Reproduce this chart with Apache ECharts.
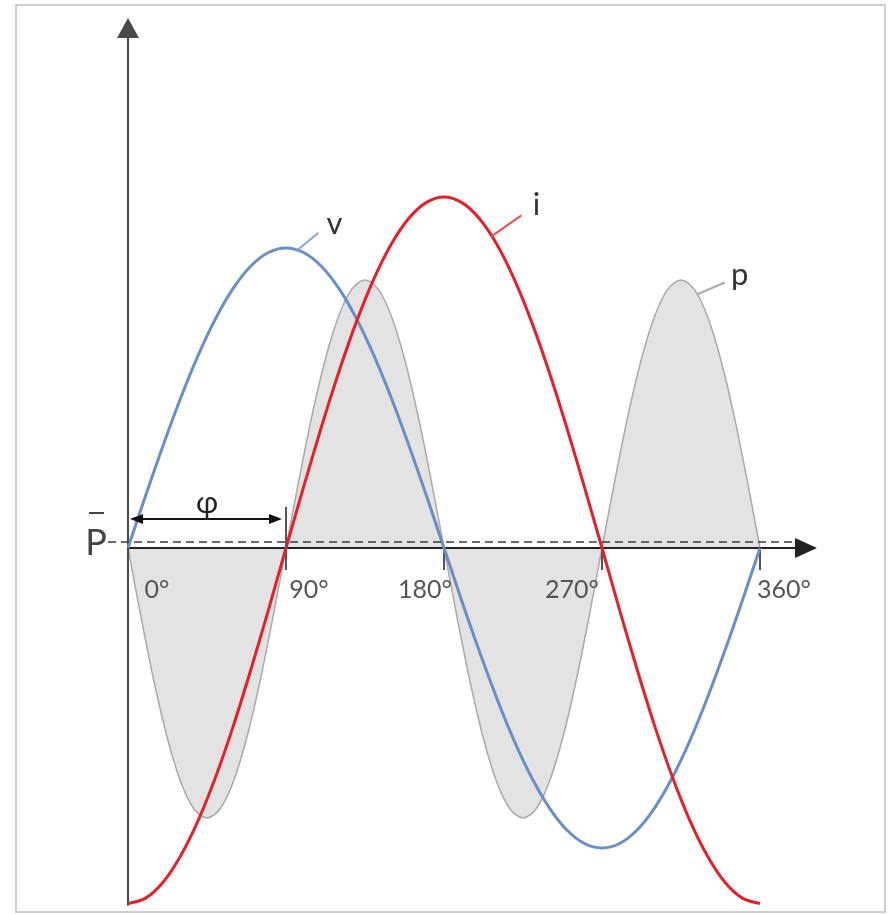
<!DOCTYPE html>
<html>
<head>
<meta charset="utf-8">
<script src="https://cdn.jsdelivr.net/npm/echarts@6/dist/echarts.min.js"></script>
<style>
  html, body { margin: 0; padding: 0; background: #ffffff; }
  #chart { width: 888px; height: 914px; }
</style>
</head>
<body>
<div id="chart"></div>
<script>
// Phase angles (degrees) at which voltage and current are sampled
const anglesVI = [0, 10, 20, 30, 40, 50, 60, 70, 80, 90, 100, 110, 120, 130, 140, 150, 160, 170, 180,
  190, 200, 210, 220, 230, 240, 250, 260, 270, 280, 290, 300, 310, 320, 330, 340, 350, 360];

// Instantaneous voltage v
const voltage = [0, 17.4, 34.2, 50.0, 64.3, 76.6, 86.6, 94.0, 98.5, 100, 98.5, 94.0, 86.6, 76.6, 64.3, 50.0, 34.2, 17.4, 0,
  -17.4, -34.2, -50.0, -64.3, -76.6, -86.6, -94.0, -98.5, -100, -98.5, -94.0, -86.6, -76.6, -64.3, -50.0, -34.2, -17.4, 0];

// Instantaneous current i (lags the voltage by φ)
const current = [-118.5, -116.7, -111.4, -102.6, -90.8, -76.2, -59.3, -40.5, -20.6, 0, 20.3, 40.0, 58.5, 75.2, 89.6, 101.3, 109.9, 115.2, 117,
  115.2, 109.9, 101.3, 89.6, 75.2, 58.5, 40.0, 20.3, 0, -20.6, -40.5, -59.3, -76.2, -90.8, -102.6, -111.4, -116.7, -118.5];

// Phase angles (degrees) at which the power is sampled
const anglesP = [0, 7.5, 15, 22.5, 30, 37.5, 45, 52.5, 60, 67.5, 75, 82.5, 90,
  97.5, 105, 112.5, 120, 127.5, 135, 142.5, 150, 157.5, 165, 172.5, 180,
  187.5, 195, 202.5, 210, 217.5, 225, 232.5, 240, 247.5, 255, 262.5, 270,
  277.5, 285, 292.5, 300, 307.5, 315, 322.5, 330, 337.5, 345, 352.5, 360];

// Instantaneous power p = v·i
const power = [0, -23.3, -45.0, -63.6, -77.9, -86.9, -90.0, -86.9, -77.9, -63.6, -45.0, -23.3, 0,
  23.1, 44.7, 63.1, 77.3, 86.3, 89.3, 86.3, 77.3, 63.1, 44.7, 23.1, 0,
  -23.3, -45.0, -63.6, -77.9, -86.9, -90.0, -86.9, -77.9, -63.6, -45.0, -23.3, 0,
  23.1, 44.7, 63.1, 77.3, 86.3, 89.3, 86.3, 77.3, 63.1, 44.7, 23.1, 0];

// Axis ticks
const tickDegrees = [0, 90, 180, 270, 360];
const tickNames = ['0°', '90°', '180°', '270°', '360°'];

const curveNames = ['v', 'i', 'p'];
const meanPower = 2;      // level of the average power P̄
const phaseAngle = 90;    // φ, degrees

const FONT = 'Lato, "Open Sans", sans-serif';
const Y_MIN = -119;
const Y_MAX = 173.333;

function pairs(xs, ys) { return xs.map((x, k) => [x, ys[k]]); }

function valueAt(xs, ys, x) {
  for (let k = 1; k < xs.length; k++) {
    if (x <= xs[k]) {
      const t = (x - xs[k - 1]) / (xs[k] - xs[k - 1]);
      return ys[k - 1] + t * (ys[k] - ys[k - 1]);
    }
  }
  return ys[ys.length - 1];
}

// per-label horizontal nudge (rich padding) so each label sits beside its tick
const labelPads = [[0, 0, 0, 58], [0, 0, 0, 46], [0, 38, 0, 0], [0, 60, 0, 0], [0, 0, 0, 48]];
const rich = {};
tickDegrees.forEach((d, k) => {
  rich['t' + k] = { fontFamily: FONT, fontSize: 25, lineHeight: 25, color: '#555', padding: labelPads[k] };
});

const option = {
  animation: false,
  backgroundColor: '#ffffff',
  grid: { left: 128, top: 28, width: 678, height: 877, containLabel: false, outerBoundsMode: 'none' },
  xAxis: {
    type: 'value',
    min: 0,
    max: 386.2,
    z: 2,
    offset: 0,
    splitLine: { show: false },
    axisLine: {
      show: true,
      onZero: false,
      symbol: ['none', 'triangle'],
      symbolSize: [20, 22],
      lineStyle: { color: '#222', width: 2 }
    },
    axisTick: {
      show: true,
      customValues: tickDegrees.slice(1),
      length: 22,
      lineStyle: { color: '#555', width: 2 }
    },
    axisLabel: {
      show: true,
      customValues: tickDegrees,
      margin: 29,
      formatter: function (val) {
        const k = tickDegrees.indexOf(val);
        return k < 0 ? '' : '{t' + k + '|' + tickNames[k] + '}';
      },
      rich: rich
    }
  },
  yAxis: {
    type: 'value',
    min: Y_MIN,
    max: Y_MAX,
    z: 2,
    splitLine: { show: false },
    axisTick: { show: false },
    axisLabel: { show: false },
    axisLine: {
      show: true,
      onZero: false,
      symbol: ['none', 'triangle'],
      symbolSize: [22, 20],
      lineStyle: { color: '#4a4a4a', width: 2 }
    }
  },
  series: [
    {
      name: curveNames[2],
      type: 'line',
      z: 1,
      smooth: 0.33,
      showSymbol: false,
      data: pairs(anglesP, power),
      lineStyle: { color: '#a9a9a9', width: 1.5 },
      areaStyle: { color: '#e3e3e4', opacity: 1 }
    },
    {
      name: curveNames[0],
      type: 'line',
      z: 3,
      smooth: 0.33,
      showSymbol: false,
      data: pairs(anglesVI, voltage),
      lineStyle: { color: '#6a8fc4', width: 3 }
    },
    {
      name: curveNames[1],
      type: 'line',
      z: 4,
      smooth: 0.33,
      showSymbol: false,
      data: pairs(anglesVI, current),
      lineStyle: { color: '#e3202b', width: 3 }
    }
  ]
};

const chart = echarts.init(document.getElementById('chart'), null, { renderer: 'canvas' });
chart.setOption(option);

const px = (x, y) => chart.convertToPixel({ gridIndex: 0 }, [x, y]);

// lift the horizontal axis from the grid bottom up to the zero line
const zeroPx = px(0, 0)[1];
const bottomPx = px(0, Y_MIN)[1];
chart.setOption({ xAxis: { offset: zeroPx - bottomPx } });

// annotations placed through the chart's own coordinate system
const origin = px(0, 0);
const pBar = px(-11.4, meanPower);
const pEnd = px(380, meanPower);
const phiY = px(0, 9.7)[1];
const phiX0 = origin[0];
const phiX1 = px(phaseAngle, 0)[0];
const phiBarTop = px(phaseAngle, 13.7)[1];
const phiText = px(phaseAngle / 2, 14.8);

function leader(name, xs, ys, deg, dx, dy, color, tx, ty) {
  const a = px(deg, valueAt(xs, ys, deg));
  return [
    { type: 'line', z: 20, shape: { x1: a[0], y1: a[1], x2: a[0] + dx, y2: a[1] + dy },
      style: { stroke: color, lineWidth: 2 } },
    { type: 'text', z: 20, x: a[0] + dx + tx, y: a[1] + dy + ty,
      style: { text: name, font: '31px ' + FONT, fill: '#333', align: 'center', verticalAlign: 'middle' } }
  ];
}

const graphics = [
  { type: 'rect', z: 30, shape: { x: 16, y: 5, width: 869, height: 907 },
    style: { fill: 'none', stroke: '#cfcfcf', lineWidth: 2 } },
  // average power line
  { type: 'line', z: 20, shape: { x1: pBar[0], y1: pBar[1], x2: pEnd[0], y2: pEnd[1] },
    style: { stroke: '#3a3a3a', lineWidth: 1.5, lineDash: [8, 5] } },
  { type: 'text', z: 20, x: origin[0] - 32, y: pBar[1] + 1.5,
    style: { text: 'P', font: '36px ' + FONT, fill: '#444', align: 'center', verticalAlign: 'middle' } },
  { type: 'line', z: 20, shape: { x1: origin[0] - 39, y1: pBar[1] - 29, x2: origin[0] - 24, y2: pBar[1] - 29 },
    style: { stroke: '#444', lineWidth: 2 } },
  // phase shift φ
  { type: 'line', z: 20, shape: { x1: phiX0 + 6, y1: phiY, x2: phiX1 - 8, y2: phiY },
    style: { stroke: '#111', lineWidth: 2 } },
  { type: 'polygon', z: 20, shape: { points: [[phiX0 + 2, phiY], [phiX0 + 15, phiY - 5], [phiX0 + 15, phiY + 5]] },
    style: { fill: '#111' } },
  { type: 'polygon', z: 20, shape: { points: [[phiX1 - 4, phiY], [phiX1 - 17, phiY - 5], [phiX1 - 17, phiY + 5]] },
    style: { fill: '#111' } },
  { type: 'line', z: 20, shape: { x1: phiX1, y1: phiBarTop, x2: phiX1, y2: origin[1] },
    style: { stroke: '#555', lineWidth: 2 } },
  { type: 'text', z: 20, x: phiText[0], y: phiText[1],
    style: { text: 'φ', font: '30px ' + FONT, fill: '#222', align: 'center', verticalAlign: 'middle' } }
]
  .concat(leader(curveNames[0], anglesVI, voltage, 96, 22, -18, '#8ba6cc', 16, -9))
  .concat(leader(curveNames[1], anglesVI, current, 207, 30, -21, '#e2505c', 15, -10))
  .concat(leader(curveNames[2], anglesP, power, 324, 28, -12, '#ababab', 15, -7.5));

chart.setOption({ graphic: graphics });
</script>
</body>
</html>
